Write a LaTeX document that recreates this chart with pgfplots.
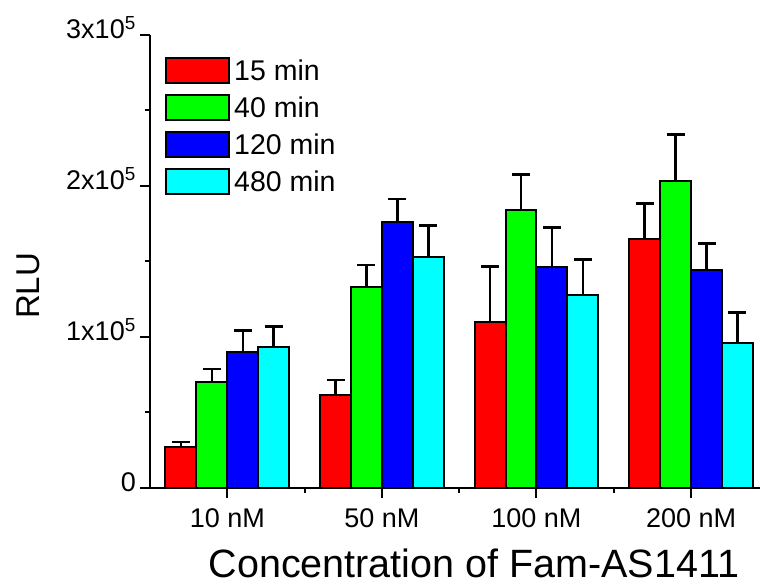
\documentclass[border=0pt]{standalone}
\usepackage{fontspec}
\setmainfont{Liberation Sans}
\usepackage{pgfplots}
\pgfplotsset{compat=1.18}

\definecolor{cRed}{RGB}{255,0,0}
\definecolor{cGreen}{RGB}{0,255,0}
\definecolor{cBlue}{RGB}{0,0,255}
\definecolor{cCyan}{RGB}{0,255,255}

\pgfplotsset{
  boxlegend/.style={legend image code/.code={
      \draw[##1, line width=2pt, yshift=0.3em] (0pt,-12.5pt) rectangle (63pt,12.5pt);}},
  errs/.style={error bars/.cd, y dir=plus, y explicit,
    error bar style={line width=2.5pt, black},
    error mark options={rotate=90, mark size=9pt, line width=2.5pt, black}},
}

\begin{document}
\begin{tikzpicture}
  \useasboundingbox (-150pt,-98pt) rectangle (610pt,488pt);
  \begin{axis}[
      at={(0pt,0pt)}, anchor=south west,
      scale only axis, width=610pt, height=453pt,
      xmin=-0.5, xmax=3.446, ymin=0, ymax=300000,
      axis x line*=bottom, axis y line*=left,
      axis line style={line width=2pt, -},
      every tick/.style={line width=2pt, black},
      tick align=outside,
      major tick length=10pt, minor tick length=5pt,
      xtick={0,1,2,3},
      xticklabels={10 nM,50 nM,100 nM,200 nM},
      minor xtick={0.5,1.5,2.5},
      ytick={0,100000,200000,300000},
      yticklabels={0,1x10\textsuperscript{5},2x10\textsuperscript{5},3x10\textsuperscript{5}},
      minor ytick={50000,150000,250000},
      scaled y ticks=false,
      x tick label style={font={\fontsize{27}{30}\selectfont}, anchor=north, inner sep=0pt, yshift=-10pt},
      y tick label style={font={\fontsize{27}{30}\selectfont}, anchor=east, inner sep=0pt,
        text height=0.72em, text depth=0pt, xshift=-4pt},
      xlabel={Concentration of Fam-AS1411},
      xlabel style={font={\fontsize{39.5}{42}\selectfont}, inner sep=0pt,
        at={(axis description cs:0.531,-0.1965)}, anchor=base},
      ylabel={RLU},
      ylabel style={font={\fontsize{33}{36}\selectfont}, at={(axis description cs:-0.2,0.446)}, anchor=center},
      ybar, bar width=0.2,
      clip=false,
      legend style={at={(rel axis cs:0.0246,0.9525)}, anchor=north west,
        draw=none, fill=none, inner sep=0pt, row sep=8pt,
        font={\fontsize{28.5}{30}\selectfont},
        nodes={inner xsep=4pt, inner ysep=0pt, text height=20pt, text depth=5pt}},
      legend cell align=left,
    ]
    % 15 min
    \addplot[fill=cRed, draw=black, line width=2pt, bar shift=-0.3, boxlegend, errs]
      coordinates {(0,27300) +- (0,3300) (1,61600) +- (0,9900)
                   (2,110200) +- (0,36400) (3,164900) +- (0,23400)};
    % 40 min
    \addplot[fill=cGreen, draw=black, line width=2pt, bar shift=-0.1, boxlegend, errs]
      coordinates {(0,70400) +- (0,8400) (1,133300) +- (0,14400)
                   (2,184100) +- (0,23600) (3,203300) +- (0,30900)};
    % 120 min
    \addplot[fill=cBlue, draw=black, line width=2pt, bar shift=0.1, boxlegend, errs]
      coordinates {(0,90300) +- (0,13900) (1,176400) +- (0,15000)
                   (2,146200) +- (0,26200) (3,144400) +- (0,17600)};
    % 480 min
    \addplot[fill=cCyan, draw=black, line width=2pt, bar shift=0.3, boxlegend, errs]
      coordinates {(0,93600) +- (0,13200) (1,153200) +- (0,20500)
                   (2,127800) +- (0,23600) (3,95800) +- (0,20300)};
    \legend{15 min,40 min,120 min,480 min}
  \end{axis}
\end{tikzpicture}
\end{document}
